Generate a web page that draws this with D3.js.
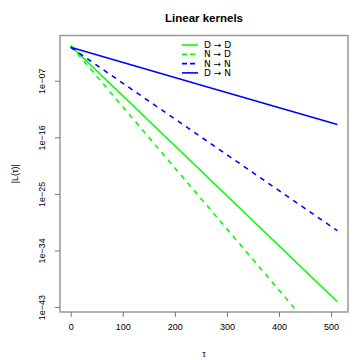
<!DOCTYPE html>
<html>
<head>
<meta charset="utf-8">
<script src="https://cdn.jsdelivr.net/npm/d3@7"></script>
<style>
  body { margin: 0; background: #fff; }
  text { font-family: "Liberation Sans", Arial, Helvetica, sans-serif; fill: #000; }
</style>
</head>
<body>
<div class="chart"></div>
<script>

const svgWidth = 360;
const svgHeight = 360;

const margin = { top: 35.5, right: 12, bottom: 48, left: 60 };
const width = svgWidth - margin.left - margin.right;
const height = svgHeight - margin.top - margin.bottom;

// tau sample points and |L(tau)|
const tau = [0, 256, 512];
const dToD = [3.7e-2, 1.6e-22, 6.9e-43];
const nToD = [3.7e-2, 4.9e-27, 6.5e-52];
const nToN = [2.1e-2, 5.4e-17, 1.4e-31];
const dToN = [2.1e-2, 1.5e-8, 1.1e-14];

const seriesNames = ["D \u2192 D", "N \u2192 D", "N \u2192 N", "D \u2192 N"];
const seriesColors = ["#00ff00", "#00ff00", "#0000ff", "#0000ff"];
const seriesDashed = [false, true, true, false];

const xTicks = [0, 100, 200, 300, 400, 500];
const yTicks = [1e-7, 1e-16, 1e-25, 1e-34, 1e-43];
const yTickLabels = ["1e\u221207", "1e\u221216", "1e\u221225", "1e\u221234", "1e\u221243"];

const allSeries = [dToD, nToD, nToN, dToN];

const svg = d3.select(".chart")
    .append("svg")
    .attr("width", svgWidth)
    .attr("height", svgHeight);

// R style 4% padding
const xExt = d3.extent(tau);
const xPad = (xExt[1] - xExt[0]) * 0.04;
const xScale = d3.scaleLinear()
    .domain([xExt[0] - xPad, xExt[1] + xPad])
    .range([0, width]);

// ylim comes from every series except N -> D (that one runs off the bottom)
const logVals = [dToD, nToN, dToN].flat().map(v => Math.log10(v));
const yLo = d3.min(logVals), yHi = d3.max(logVals);
const yPad = (yHi - yLo) * 0.04;
const yScale = d3.scaleLog()
    .domain([Math.pow(10, yLo - yPad), Math.pow(10, yHi + yPad)])
    .range([height, 0]);

const chartGroup = svg.append("g")
    .attr("transform", `translate(${margin.left}, ${margin.top})`);

chartGroup.append("clipPath")
    .attr("id", "plotclip")
    .append("rect")
    .attr("width", width)
    .attr("height", height);

const line = d3.line()
    .x((d, i) => xScale(tau[i]))
    .y(d => yScale(d));

chartGroup.append("g")
    .attr("clip-path", "url(#plotclip)")
    .selectAll("path")
    .data(allSeries)
    .enter()
    .append("path")
    .attr("d", d => line(d))
    .attr("fill", "none")
    .attr("stroke", (d, i) => seriesColors[i])
    .attr("stroke-width", 1.6)
    .attr("stroke-dasharray", (d, i) => seriesDashed[i] ? "5,5" : null);

// box
chartGroup.append("rect")
    .attr("width", width)
    .attr("height", height)
    .attr("fill", "none")
    .attr("stroke", "#999")
    .attr("stroke-width", 1.5);

const bottomAxis = d3.axisBottom(xScale)
    .tickValues(xTicks)
    .tickSize(5)
    .tickPadding(7)
    .tickSizeOuter(0);

const xAxis = chartGroup.append("g")
    .attr("transform", `translate(0, ${height})`)
    .call(bottomAxis);

const leftAxis = d3.axisLeft(yScale)
    .tickValues(yTicks)
    .tickFormat((d, i) => yTickLabels[i])
    .tickSize(5)
    .tickSizeOuter(0);

const yAxis = chartGroup.append("g")
    .call(leftAxis);

[xAxis, yAxis].forEach(ax => {
    ax.select(".domain").remove();
    ax.selectAll(".tick line").attr("stroke", "#777").attr("stroke-width", 1);
    ax.selectAll(".tick text")
        .style("font-size", "9px")
        .style("font-family", "'Liberation Sans', Arial, sans-serif")
        .attr("fill", "#333");
});

yAxis.selectAll(".tick text")
    .attr("x", 0)
    .attr("dy", null)
    .attr("transform", "translate(-15, 0) rotate(-90)")
    .style("text-anchor", "middle");

// title and axis titles
svg.append("text")
    .attr("x", margin.left + width / 2)
    .attr("y", 22)
    .attr("text-anchor", "middle")
    .style("font-size", "11.5px")
    .style("font-weight", "bold")
    .text("Linear kernels");

svg.append("text")
    .attr("x", margin.left + width / 2)
    .attr("y", 357)
    .attr("text-anchor", "middle")
    .style("font-size", "9px")
    .text("\u03c4");

svg.append("text")
    .attr("transform", `translate(18, ${margin.top + height / 2}) rotate(-90)`)
    .attr("text-anchor", "middle")
    .style("font-size", "9px")
    .text("|L(\u03c4)|");

// legend
const legend = svg.append("g")
    .attr("transform", "translate(182, 45)");

const legendRows = legend.selectAll("g")
    .data(seriesNames)
    .enter()
    .append("g")
    .attr("transform", (d, i) => `translate(0, ${i * 9.3})`);

legendRows.append("line")
    .attr("x1", 0)
    .attr("x2", 16)
    .attr("stroke", (d, i) => seriesColors[i])
    .attr("stroke-width", 1.6)
    .attr("stroke-dasharray", (d, i) => seriesDashed[i] ? "5,3" : null);

legendRows.append("text")
    .attr("x", 22)
    .attr("dy", "0.35em")
    .style("font-size", "9px")
    .style("font-family", "'DejaVu Sans', sans-serif")
    .attr("fill", "#333")
    .text(d => d);

</script>
</body>
</html>
